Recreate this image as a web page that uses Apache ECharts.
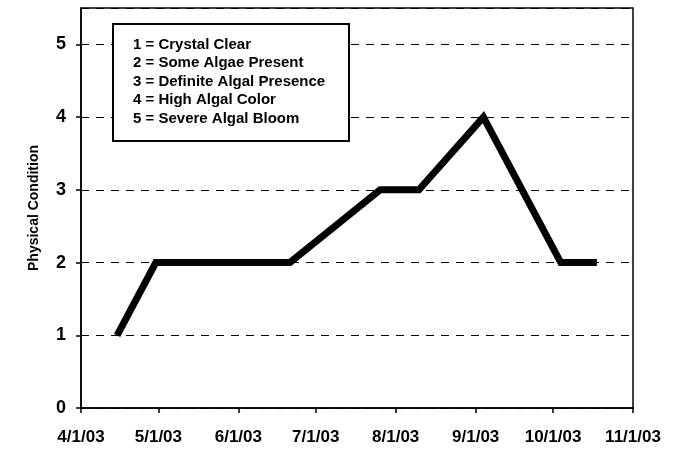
<!DOCTYPE html>
<html>
<head>
<meta charset="utf-8">
<script src="https://cdn.jsdelivr.net/npm/echarts@6/dist/echarts.min.js"></script>
<style>
html,body{margin:0;padding:0;background:#fff;}
#chart{width:678px;height:450px;}
</style>
</head>
<body>
<div id="chart"></div>
<script>
// Data
var sampleDates = ['2003-04-15','2003-04-30','2003-06-21','2003-07-26','2003-08-10','2003-09-04','2003-10-04','2003-10-18'];
var conditionValues = [1, 2, 2, 3, 3, 4, 2, 2];
var yTicks = [0, 1, 2, 3, 4, 5];
var legendLines = ['1 = Crystal Clear','2 = Some Algae Present','3 = Definite Algal Presence','4 = High Algal Color','5 = Severe Algal Bloom'];
var axisTitle = 'Physical Condition';

var chart = echarts.init(document.getElementById('chart'), null, {renderer:'canvas'});
var fontFam = '"Liberation Sans", Arial, sans-serif';

var seriesData = sampleDates.map(function(d, i){ return [d, conditionValues[i]]; });

var legendGraphics = [{
  type:'rect', left:112, top:23, z:100,
  shape:{width:236, height:117},
  style:{fill:'#fff', stroke:'#000', lineWidth:2}
}];
legendLines.forEach(function(t, i){
  legendGraphics.push({
    type:'text', left:133, top:37 + i*18.5, z:101,
    style:{text:t, fill:'#000', font:'bold 15px ' + fontFam}
  });
});

chart.setOption({
  animation:false,
  backgroundColor:'#fff',
  grid:{left:81, right:45, top:8, bottom:42, show:true, borderColor:'#000', borderWidth:1.5, backgroundColor:'transparent'},
  xAxis:{
    type:'time',
    min:'2003-04-01', max:'2003-11-01',
    minInterval: 28*86400000, maxInterval: 31*86400000,
    axisLine:{show:true, lineStyle:{color:'#000', width:1.5}},
    axisTick:{show:true, length:5, lineStyle:{color:'#000', width:1.5}},
    splitLine:{show:false},
    axisLabel:{
      color:'#000', fontFamily:fontFam, fontWeight:'bold', fontSize:17, margin:21,
      hideOverlap:false, showMinLabel:true, showMaxLabel:true,
      formatter:function(v){ var d = new Date(v); return (d.getMonth()+1)+'/'+d.getDate()+'/03'; }
    }
  },
  yAxis:{
    type:'value', min:0, max:5.5, interval:1,
    name:axisTitle, nameLocation:'middle', nameGap:40, nameRotate:90,
    nameTextStyle:{color:'#000', fontFamily:fontFam, fontWeight:'bold', fontSize:14},
    axisLine:{show:true, lineStyle:{color:'#000', width:1.5}},
    axisTick:{show:true, length:5, lineStyle:{color:'#000', width:1.5}},
    splitLine:{show:true, lineStyle:{color:'#000', width:1, type:[8,7]}},
    axisLabel:{
      color:'#000', fontFamily:fontFam, fontWeight:'bold', fontSize:18, margin:15,
      showMaxLabel:false,
      formatter:function(v){ return yTicks.indexOf(v) >= 0 ? String(v) : ''; }
    }
  },
  series:[{
    type:'line', data:seriesData, showSymbol:false, symbol:'none',
    lineStyle:{color:'#000', width:7, join:'miter'},
    z:5
  }],
  graphic:legendGraphics
});
</script>
</body>
</html>
